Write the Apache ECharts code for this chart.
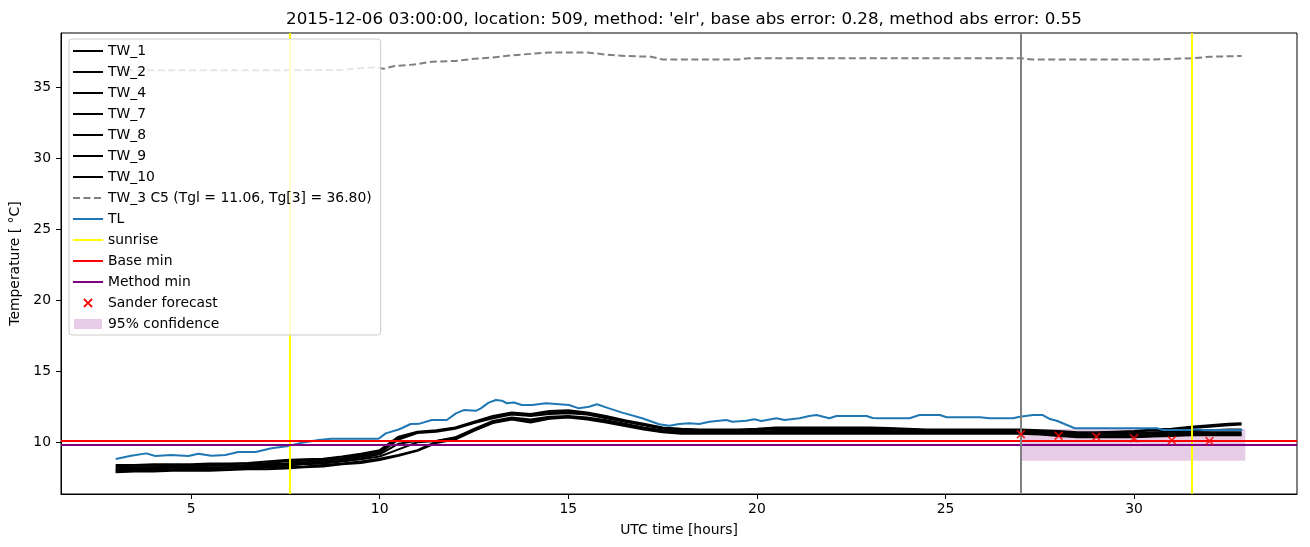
<!DOCTYPE html>
<html>
<head>
<meta charset="utf-8">
<script src="https://cdn.jsdelivr.net/npm/echarts@6/dist/echarts.min.js"></script>
<style>html,body{margin:0;padding:0;background:#fff;}#chart{width:1310px;height:547px;}</style>
</head>
<body>
<div id="chart"></div>
<script>
// ---- data ----
const titleText = "2015-12-06 03:00:00, location: 509, method: 'elr', base abs error: 0.28, method abs error: 0.55";
const xTicks = [5, 10, 15, 20, 25, 30];
const yTicks = [10, 15, 20, 25, 30, 35];

const hours = [3.0,3.5,4.0,4.5,5.0,5.5,6.0,6.5,7.0,7.5,8.0,8.5,9.0,9.5,10.0,10.5,11.0,11.5,12.0,12.5,
  13.0,13.5,14.0,14.5,15.0,15.5,16.0,16.5,17.0,17.5,18.0,18.5,19.0,19.5,20.0,20.5,21.0,21.5,22.0,22.5,
  23.0,23.5,24.0,24.5,25.0,25.5,26.0,26.5,27.0,27.5,28.0,28.5,29.0,29.5,30.0,30.5,31.0,31.5,32.0,32.5,32.85];

const TW_1 = [8.40,8.40,8.45,8.45,8.45,8.50,8.50,8.55,8.65,8.75,8.80,8.85,9.00,9.20,9.45,10.40,10.75,10.85,11.05,11.45,
  11.85,12.10,12.00,12.20,12.25,12.10,11.85,11.55,11.30,11.05,10.95,10.90,10.90,10.90,10.95,11.05,11.05,11.05,11.05,11.05,
  11.05,11.00,10.95,10.90,10.90,10.90,10.90,10.90,10.90,10.85,10.80,10.70,10.70,10.75,10.80,10.90,10.95,11.10,11.20,11.30,11.35];
const TW_2 = [8.30,8.35,8.35,8.40,8.40,8.40,8.45,8.50,8.55,8.65,8.70,8.80,8.90,9.10,9.35,10.30,10.70,10.80,11.00,11.40,
  11.80,12.05,11.95,12.10,12.15,12.05,11.80,11.50,11.25,11.00,10.90,10.85,10.85,10.85,10.90,11.00,11.00,11.00,11.00,11.00,
  11.00,10.95,10.90,10.85,10.85,10.85,10.85,10.85,10.85,10.80,10.75,10.65,10.65,10.70,10.75,10.85,10.90,11.00,11.10,11.20,11.25];
const TW_4 = [8.20,8.25,8.25,8.30,8.30,8.35,8.35,8.40,8.45,8.50,8.60,8.70,8.80,9.00,9.25,10.20,10.65,10.75,10.95,11.35,
  11.70,11.95,11.85,12.00,12.05,11.95,11.70,11.45,11.20,10.95,10.85,10.80,10.80,10.80,10.85,10.90,10.90,10.90,10.90,10.90,
  10.90,10.90,10.85,10.80,10.80,10.80,10.80,10.80,10.80,10.75,10.70,10.60,10.60,10.60,10.65,10.70,10.75,10.80,10.85,10.90,10.90];
const TW_7 = [8.10,8.15,8.15,8.20,8.20,8.25,8.25,8.30,8.35,8.45,8.50,8.60,8.70,8.90,9.15,9.90,10.10,10.10,10.35,10.95,
  11.50,11.75,11.60,11.80,11.85,11.75,11.55,11.30,11.05,10.85,10.75,10.75,10.75,10.75,10.75,10.80,10.80,10.80,10.80,10.80,
  10.80,10.80,10.75,10.75,10.75,10.75,10.75,10.75,10.75,10.70,10.65,10.55,10.50,10.50,10.55,10.60,10.65,10.70,10.70,10.70,10.70];
const TW_8 = [8.05,8.05,8.10,8.10,8.15,8.15,8.20,8.25,8.30,8.35,8.45,8.50,8.65,8.80,9.00,9.50,10.00,10.10,10.30,10.90,
  11.45,11.70,11.55,11.75,11.80,11.70,11.50,11.25,11.00,10.80,10.70,10.70,10.70,10.70,10.70,10.75,10.75,10.75,10.75,10.75,
  10.75,10.75,10.70,10.70,10.70,10.70,10.70,10.70,10.70,10.65,10.55,10.45,10.45,10.45,10.50,10.55,10.60,10.60,10.60,10.60,10.60];
const TW_9 = [7.95,8.00,8.00,8.05,8.05,8.05,8.10,8.15,8.20,8.25,8.30,8.40,8.50,8.65,8.85,9.10,9.45,10.05,10.25,10.85,
  11.40,11.65,11.45,11.70,11.80,11.65,11.45,11.20,10.95,10.75,10.65,10.65,10.65,10.65,10.65,10.65,10.65,10.65,10.65,10.65,
  10.65,10.65,10.65,10.65,10.65,10.65,10.65,10.65,10.65,10.60,10.50,10.40,10.40,10.40,10.40,10.45,10.50,10.55,10.55,10.55,10.55];
const TW_10 = [7.90,7.95,7.95,8.00,8.00,8.00,8.05,8.10,8.10,8.15,8.25,8.30,8.45,8.55,8.75,9.05,9.40,9.95,10.20,10.80,
  11.35,11.60,11.40,11.65,11.75,11.60,11.40,11.15,10.90,10.70,10.60,10.60,10.60,10.60,10.60,10.60,10.60,10.60,10.60,10.60,
  10.60,10.60,10.60,10.60,10.60,10.60,10.60,10.60,10.60,10.55,10.45,10.35,10.35,10.35,10.35,10.40,10.45,10.50,10.50,10.50,10.50];

const TW_3 = [[3.0,36.2],[7.5,36.2],[9.0,36.22],[9.5,36.35],[9.9,36.4],[10.1,36.3],[10.4,36.5],[10.9,36.6],[11.4,36.8],
  [12.0,36.85],[12.5,37.0],[13.0,37.1],[13.5,37.25],[14.0,37.35],[14.5,37.45],[15.5,37.45],[16.0,37.3],[16.5,37.2],
  [17.2,37.15],[17.5,36.95],[19.5,36.95],[19.8,37.05],[27.0,37.05],[27.3,36.95],[30.5,36.95],[31.0,37.0],[31.6,37.05],
  [32.0,37.15],[32.85,37.2]];

const TL = [[3.0,8.82],[3.41,9.06],[3.81,9.22],[4.05,9.04],[4.47,9.10],[4.93,9.04],[5.19,9.20],[5.54,9.06],[5.91,9.10],
  [6.25,9.32],[6.71,9.32],[7.13,9.58],[7.58,9.74],[7.93,9.97],[8.38,10.16],[8.72,10.25],[9.18,10.25],[9.97,10.25],
  [10.16,10.63],[10.50,10.90],[10.58,10.99],[10.82,11.29],[11.04,11.30],[11.38,11.57],[11.78,11.57],[12.02,12.04],
  [12.23,12.27],[12.55,12.22],[12.68,12.39],[12.89,12.79],[13.08,12.98],[13.24,12.93],[13.37,12.75],[13.56,12.80],
  [13.77,12.63],[14.04,12.63],[14.41,12.75],[14.67,12.70],[15.02,12.63],[15.28,12.39],[15.55,12.50],[15.76,12.68],
  [16.08,12.39],[16.43,12.09],[16.96,11.69],[17.41,11.27],[17.68,11.17],[17.94,11.29],[18.21,11.34],[18.47,11.29],
  [18.74,11.45],[19.19,11.57],[19.35,11.45],[19.72,11.52],[19.93,11.62],[20.12,11.50],[20.52,11.69],[20.73,11.57],
  [21.13,11.69],[21.39,11.85],[21.58,11.92],[21.92,11.69],[22.11,11.85],[22.91,11.85],[23.07,11.71],[23.25,11.69],
  [24.05,11.69],[24.31,11.92],[24.85,11.92],[25.03,11.76],[25.91,11.76],[26.17,11.69],[26.79,11.69],[26.97,11.80],
  [27.32,11.92],[27.58,11.92],[27.77,11.64],[27.95,11.52],[28.22,11.22],[28.43,10.99],[30.61,10.99],[30.77,10.87],
  [31.49,10.87],[31.67,10.92],[31.83,10.87],[32.87,10.87]];

const sunriseHours = [7.62, 31.54];
const forecastHour = 27;
const baseMin = 10.1;
const methodMin = 9.83;
const forecastHours = [27, 28, 29, 30, 31, 32];
const forecastValues = [10.56, 10.46, 10.39, 10.28, 10.14, 10.09];
const confHours = [27, 32.95];
const confLow = 8.70;
const confHigh = 10.94;

const twNames = ['TW_1','TW_2','TW_4','TW_7','TW_8','TW_9','TW_10'];
const twValues = [TW_1, TW_2, TW_4, TW_7, TW_8, TW_9, TW_10];
const tw3Name = 'TW_3 C5 (Tgl = 11.06, Tg[3] = 36.80)';

// ---- chart ----
const FONT = 'DejaVu Sans';
const FS = 13.9;
const chart = echarts.init(document.getElementById('chart'), null, {renderer: 'canvas'});

const xMark = 'path://M0,1.4 L1.4,0 L5,3.6 L8.6,0 L10,1.4 L6.4,5 L10,8.6 L8.6,10 L5,6.4 L1.4,10 L0,8.6 L3.6,5 Z';
const xMarkLegend = 'path://M-2.5,-2.5 M12.5,12.5 M0,1.4 L1.4,0 L5,3.6 L8.6,0 L10,1.4 L6.4,5 L10,8.6 L8.6,10 L5,6.4 L1.4,10 L0,8.6 L3.6,5 Z';
const rectLegend = 'path://M0,0 M30,14 M1,2 L29,2 L29,12 L1,12 Z';

const series = [];
twNames.forEach((n, k) => {
  series.push({
    name: n, type: 'line', symbol: 'none', showSymbol: false, z: 3,
    color: '#000000',
    lineStyle: {color: '#000000', width: 2},
    data: hours.map((h, i) => [h, twValues[k][i]])
  });
});
series.push({
  name: tw3Name, type: 'line', symbol: 'none', z: 3, color: '#808080',
  lineStyle: {color: '#808080', width: 2, type: [7, 3.5]},
  data: TW_3
});
series.push({
  name: 'TL', type: 'line', symbol: 'none', z: 4, color: '#1f77b4',
  lineStyle: {color: '#1f77b4', width: 2},
  data: TL
});
series.push({
  name: 'sunrise', type: 'line', symbol: 'none', z: 5, color: '#ffff00',
  lineStyle: {color: '#ffff00', width: 2}, data: [],
  markLine: {silent: true, symbol: ['none','none'], label: {show: false}, animation: false,
    lineStyle: {color: '#ffff00', width: 2, type: 'solid'},
    emphasis: {disabled: true},
    data: sunriseHours.map(h => ({xAxis: h}))}
});
series.push({
  name: 'Base min', type: 'line', symbol: 'none', z: 5, color: '#ff0000',
  lineStyle: {color: '#ff0000', width: 2}, data: [],
  markLine: {silent: true, symbol: ['none','none'], label: {show: false}, animation: false,
    lineStyle: {color: '#ff0000', width: 2, type: 'solid'},
    emphasis: {disabled: true},
    data: [{yAxis: baseMin}]}
});
series.push({
  name: 'Method min', type: 'line', symbol: 'none', z: 5, color: '#800080',
  lineStyle: {color: '#800080', width: 2}, data: [],
  markLine: {silent: true, symbol: ['none','none'], label: {show: false}, animation: false,
    lineStyle: {color: '#800080', width: 2, type: 'solid'},
    emphasis: {disabled: true},
    data: [{yAxis: methodMin}]}
});
series.push({
  name: 'Sander forecast', type: 'scatter', symbol: xMark, symbolSize: 9, z: 6,
  color: '#ff0000', itemStyle: {color: '#ff0000'},
  data: forecastHours.map((h, i) => [h, forecastValues[i]])
});
series.push({
  name: '95% confidence', type: 'line', symbol: 'none', z: 1,
  color: 'rgba(128,0,128,0.2)',
  lineStyle: {width: 0, opacity: 0},
  areaStyle: {color: 'rgba(128,0,128,0.2)', opacity: 1, origin: confLow},
  data: confHours.map(h => [h, confHigh])
});
series.push({
  name: 'forecast time', type: 'line', symbol: 'none', z: 5, color: '#808080', data: [],
  markLine: {silent: true, symbol: ['none','none'], label: {show: false}, animation: false,
    lineStyle: {color: '#808080', width: 2, type: 'solid'},
    emphasis: {disabled: true},
    data: [{xAxis: forecastHour}]}
});

const legendData = twNames.concat([tw3Name, 'TL', 'sunrise', 'Base min', 'Method min']).map(n => ({name: n}));
legendData.push({name: 'Sander forecast', icon: xMarkLegend, itemStyle: {opacity: 1, color: '#ff0000', borderWidth: 0}});
legendData.push({name: '95% confidence', icon: rectLegend, itemStyle: {opacity: 1, color: 'rgba(128,0,128,0.2)', borderWidth: 0}});

const option = {
  animation: false,
  backgroundColor: '#ffffff',
  textStyle: {fontFamily: FONT},
  title: {
    text: titleText, left: 679, top: 6, textAlign: 'center',
    textStyle: {fontFamily: FONT, fontSize: 16.7, fontWeight: 'normal', color: '#000'}
  },
  legend: {
    orient: 'vertical', left: 69, top: 39, z: 20,
    padding: [5, 9, 4, 3],
    itemWidth: 30, itemHeight: 14, itemGap: 7, itemTextGap: 10,
    backgroundColor: 'rgba(255,255,255,0.8)', borderColor: '#cccccc', borderWidth: 1, borderRadius: 3,
    selectedMode: false,
    itemStyle: {opacity: 0},
    textStyle: {fontFamily: FONT, fontSize: FS, color: '#000'},
    data: legendData
  },
  grid: {left: 61, right: 13, top: 33, bottom: 53, show: true, borderColor: '#000', borderWidth: 1, backgroundColor: 'transparent'},
  xAxis: {
    type: 'value', min: 1.55, max: 34.32,
    name: 'UTC time [hours]', nameLocation: 'middle', nameGap: 29,
    nameTextStyle: {fontFamily: FONT, fontSize: FS, color: '#000'},
    axisLine: {show: true, lineStyle: {color: '#000', width: 1}},
    axisTick: {show: true, length: 5, customValues: xTicks, lineStyle: {color: '#000', width: 1}},
    axisLabel: {customValues: xTicks, fontFamily: FONT, fontSize: FS, color: '#000', margin: 8},
    splitLine: {show: false}
  },
  yAxis: {
    type: 'value', min: 6.36, max: 38.82,
    name: 'Temperature [ °C]', nameLocation: 'middle', nameGap: 34, nameRotate: 90,
    nameTextStyle: {fontFamily: FONT, fontSize: FS, color: '#000'},
    axisLine: {show: true, lineStyle: {color: '#000', width: 1}},
    axisTick: {show: true, length: 5, customValues: yTicks, lineStyle: {color: '#000', width: 1}},
    axisLabel: {customValues: yTicks, fontFamily: FONT, fontSize: FS, color: '#000', margin: 10},
    splitLine: {show: false}
  },
  series: series
};
chart.setOption(option);
</script>
</body>
</html>
